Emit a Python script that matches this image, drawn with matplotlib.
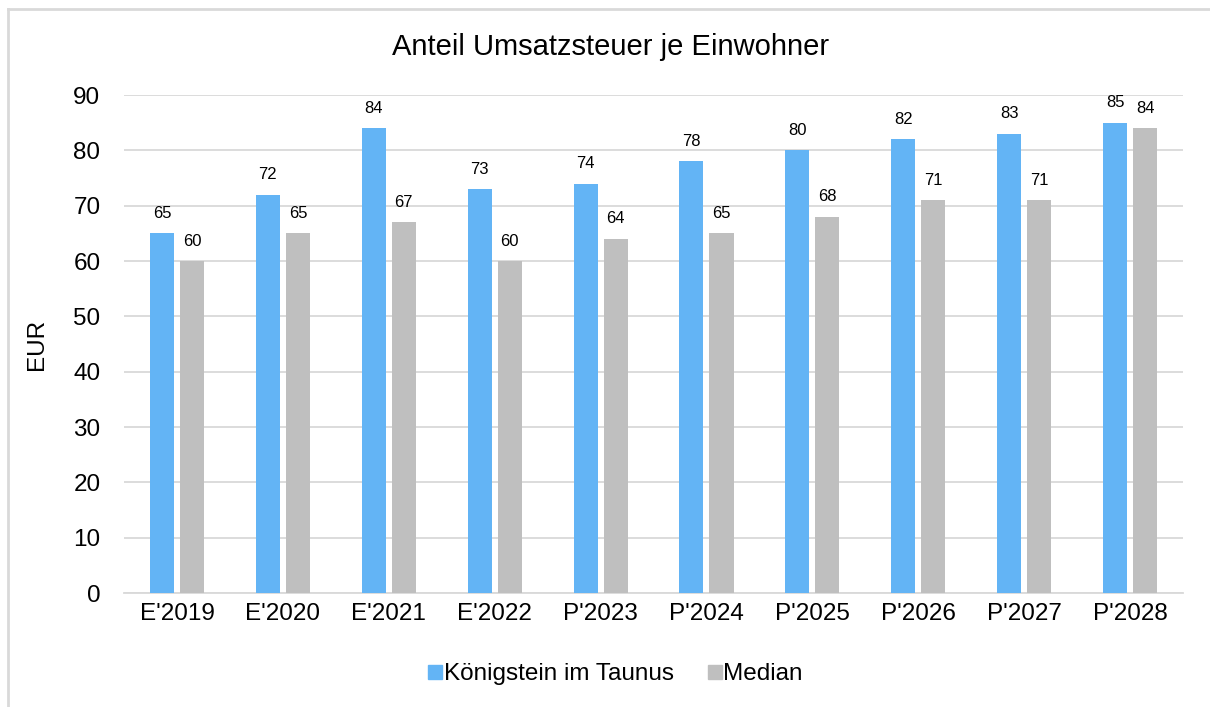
import matplotlib.pyplot as plt
import numpy as np
from matplotlib.lines import Line2D

plt.rcParams['font.family'] = ['Liberation Sans', 'DejaVu Sans']

years = ["E'2019", "E'2020", "E'2021", "E'2022", "P'2023",
         "P'2024", "P'2025", "P'2026", "P'2027", "P'2028"]
koenigstein = [65, 72, 84, 73, 74, 78, 80, 82, 83, 85]
median = [60, 65, 67, 60, 64, 65, 68, 71, 71, 84]

blue = '#63b4f5'
grey = '#bfbfbf'

fig = plt.figure(figsize=(12.1, 7.07), dpi=100)
ax = fig.add_axes([0.1025, 0.1612, 0.8752, 0.7044])

x = np.arange(len(years))
w = 0.227
off = 0.142
b1 = ax.bar(x - off, koenigstein, w, color=blue, zorder=3)
b2 = ax.bar(x + off, median, w, color=grey, zorder=3)

# value labels above the bars
for bars in (b1, b2):
    for r in bars:
        ax.annotate(f'{r.get_height():.0f}', (r.get_x() + r.get_width() / 2, r.get_height()),
                    xytext=(0, 9), textcoords='offset points',
                    ha='center', va='bottom', fontsize=12)

ax.set_xlim(-0.5, len(years) - 0.5)
ax.set_ylim(0, 90)
ax.set_yticks(range(0, 91, 10))
ax.set_xticks(x)
ax.set_xticklabels(years)
ax.tick_params(axis='both', length=0, labelsize=17.5, pad=7)
ax.tick_params(axis='y', pad=17)
ax.grid(axis='y', color='#d9d9d9', linewidth=1.3, zorder=0)
for s in ['top', 'right', 'left']:
    ax.spines[s].set_visible(False)
ax.spines['bottom'].set_color('#d9d9d9')
ax.spines['bottom'].set_linewidth(1.3)

ax.set_ylabel('EUR', fontsize=17.5, labelpad=18)
fig.text(0.505, 0.934, 'Anteil Umsatzsteuer je Einwohner', ha='center', va='center', fontsize=21)

handles = [Line2D([], [], marker='s', ls='', color=blue, markersize=10),
           Line2D([], [], marker='s', ls='', color=grey, markersize=10)]
fig.legend(handles, ['Königstein im Taunus', 'Median'], loc='center',
           bbox_to_anchor=(0.507, 0.046), ncol=2, frameon=False, fontsize=17.5,
           handletextpad=-0.1, columnspacing=1.25, handlelength=0.9)

# chart frame
fig.add_artist(Line2D([0.0066, 0.0066], [0.0, 0.987], color='#d9d9d9', lw=2, transform=fig.transFigure))
fig.add_artist(Line2D([0.0066, 1.0], [0.987, 0.987], color='#d9d9d9', lw=2, transform=fig.transFigure))

fig.savefig('out.png', dpi=100)
